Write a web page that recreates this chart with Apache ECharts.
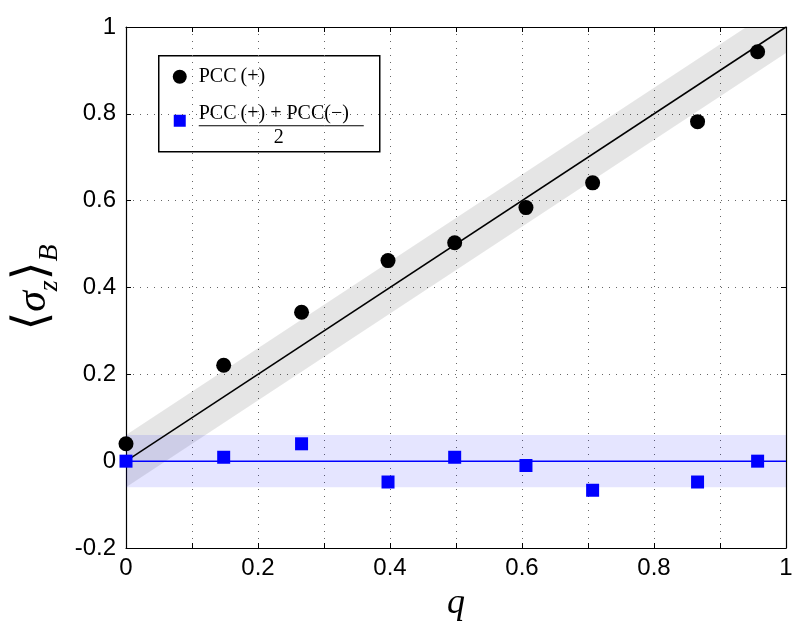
<!DOCTYPE html>
<html><head><meta charset="utf-8">
<script src="https://cdn.jsdelivr.net/npm/echarts@6/dist/echarts.min.js"></script>
<style>html,body{margin:0;padding:0;background:#fff}#c{width:800px;height:643px}</style>
</head><body><div id="c"></div>
<script>
// Data
const qValues = [0, 0.148, 0.266, 0.397, 0.498, 0.606, 0.707, 0.866, 0.957];
const pccPlus = [0.040, 0.221, 0.343, 0.462, 0.503, 0.584, 0.641, 0.782, 0.943];
const pccAvg = [0.000, 0.009, 0.040, -0.048, 0.009, -0.010, -0.067, -0.048, 0.000];
const fitQ = [0, 1];
const fitPlus = [0, 1];
const fitAvg = [0, 0];
const bandHalf = 0.06;
const xTicks = [0, 0.2, 0.4, 0.6, 0.8, 1];
const yTicks = [-0.2, 0, 0.2, 0.4, 0.6, 0.8, 1];

const pts = (xs, ys) => xs.map((x, i) => [x, ys[i]]);

function bandSeries(center, fill) {
  return {
    type: 'custom', silent: true, z: 1, clip: true,
    data: pts(fitQ, center),
    renderItem: function (params, api) {
      if (params.dataIndex !== 0) return null;
      const upper = fitQ.map((q, i) => api.coord([q, center[i] + bandHalf]));
      const lower = fitQ.map((q, i) => api.coord([q, center[i] - bandHalf])).reverse();
      const cs = params.coordSys;
      return {
        type: 'group',
        children: [{
          type: 'polygon',
          shape: {points: upper.concat(lower)},
          style: {fill: fill},
          clipPath: {type: 'rect', shape: {x: cs.x, y: cs.y, width: cs.width, height: cs.height}}
        }]
      };
    }
  };
}

const chart = echarts.init(document.getElementById('c'), null, {renderer: 'canvas'});
const labelFont = {fontFamily: 'Liberation Sans', fontSize: 24, color: '#000'};
const dotted = {show: true, lineStyle: {color: '#666', type: [1, 6], width: 1}};

const option = {
  backgroundColor: '#fff',
  animation: false,
  grid: {left: 126, right: 14, top: 27, bottom: 95, containLabel: false, outerBoundsMode: 'none'},
  xAxis: [{
    type: 'value', min: 0, max: 1, interval: 0.1,
    axisLine: {show: true, onZero: false, lineStyle: {color: '#000', width: 1.2}},
    axisTick: {show: true, inside: true, length: 5, lineStyle: {color: '#000'}},
    axisLabel: Object.assign({margin: 8, formatter: v => {
      const k = Math.round(v * 10);
      return (k % 2 === 0 && xTicks.includes(k / 10)) ? String(k / 10) : '';
    }}, labelFont),
    splitLine: dotted,
    name: 'q', nameLocation: 'middle', nameGap: 38,
    nameTextStyle: {fontFamily: 'Liberation Serif', fontStyle: 'italic', fontSize: 36, color: '#000'}
  }, {
    type: 'value', min: 0, max: 1, interval: 0.1, position: 'top',
    axisLine: {show: true, onZero: false, lineStyle: {color: '#000', width: 1.2}},
    axisTick: {show: true, inside: true, length: 5, lineStyle: {color: '#000'}},
    axisLabel: {show: false}, splitLine: {show: false}
  }],
  yAxis: [{
    type: 'value', min: -0.2, max: 1, interval: 0.2,
    axisLine: {show: true, onZero: false, lineStyle: {color: '#000', width: 1.2}},
    axisTick: {show: true, inside: true, length: 5, lineStyle: {color: '#000'}},
    axisLabel: Object.assign({margin: 10, formatter: v => {
      const r = Math.round(v * 10) / 10;
      return yTicks.includes(r) ? String(r) : '';
    }}, labelFont),
    splitLine: dotted,
    name: '{b|⟨}{s|σ}{z|z}{b|⟩}{B|B}',
    nameLocation: 'middle', nameGap: 57, nameRotate: 90,
    nameTextStyle: {
      rich: {
        b: {fontFamily: 'DejaVu Sans', fontSize: 48, lineHeight: 60, verticalAlign: 'middle', color: '#000'},
        s: {fontFamily: 'Liberation Serif', fontStyle: 'italic', fontSize: 42, lineHeight: 60, verticalAlign: 'middle', color: '#000'},
        z: {fontFamily: 'Liberation Serif', fontStyle: 'italic', fontSize: 28, lineHeight: 46, verticalAlign: 'bottom', color: '#000'},
        B: {fontFamily: 'Liberation Serif', fontStyle: 'italic', fontSize: 28, lineHeight: 36, verticalAlign: 'bottom', color: '#000'}
      }
    }
  }, {
    type: 'value', min: -0.2, max: 1, interval: 0.2, position: 'right',
    axisLine: {show: true, onZero: false, lineStyle: {color: '#000', width: 1.2}},
    axisTick: {show: true, inside: true, length: 5, lineStyle: {color: '#000'}},
    axisLabel: {show: false}, splitLine: {show: false}
  }],
  series: [
    bandSeries(fitPlus, 'rgba(0,0,0,0.1)'),
    bandSeries(fitAvg, 'rgba(0,0,255,0.1)'),
    {type: 'line', symbol: 'none', z: 3, lineStyle: {color: '#000', width: 1.5}, data: pts(fitQ, fitPlus)},
    {type: 'line', symbol: 'none', z: 3, lineStyle: {color: '#0000ff', width: 1.5}, data: pts(fitQ, fitAvg)},
    {type: 'scatter', name: 'PCC(+)', symbol: 'circle', symbolSize: 15, z: 5, clip: false,
     itemStyle: {color: '#000', opacity: 1}, data: pts(qValues, pccPlus)},
    {type: 'scatter', name: 'avg', symbol: 'rect', symbolSize: 13, z: 6, clip: false,
     itemStyle: {color: '#0000ff', opacity: 1}, data: pts(qValues, pccAvg)}
  ],
  graphic: [{
    type: 'group', left: 158, top: 55, z: 100,
    children: [
      {type: 'rect', shape: {x: 0, y: 0, width: 221, height: 96},
       style: {fill: '#fff', stroke: '#000', lineWidth: 1.5}},
      {type: 'circle', shape: {cx: 21, cy: 21, r: 7}, style: {fill: '#000'}},
      {type: 'text', x: 40, y: 21, style: {text: 'PCC\u2009(+)', fontFamily: 'Liberation Serif', fontSize: 20,
        fill: '#000', verticalAlign: 'middle', align: 'left'}},
      {type: 'rect', shape: {x: 15, y: 59, width: 12, height: 12}, style: {fill: '#0000ff'}},
      {type: 'text', x: 40, y: 58, style: {text: 'PCC\u2009(+) + PCC(\u2212)', fontFamily: 'Liberation Serif', fontSize: 20,
        fill: '#000', verticalAlign: 'middle', align: 'left'}},
      {type: 'line', shape: {x1: 40, y1: 70, x2: 205, y2: 70}, style: {stroke: '#000', lineWidth: 1}},
      {type: 'text', x: 120, y: 82, style: {text: '2', fontFamily: 'Liberation Serif', fontSize: 20,
        fill: '#000', verticalAlign: 'middle', align: 'center'}}
    ]
  }]
};
chart.setOption(option);
</script>
</body></html>
